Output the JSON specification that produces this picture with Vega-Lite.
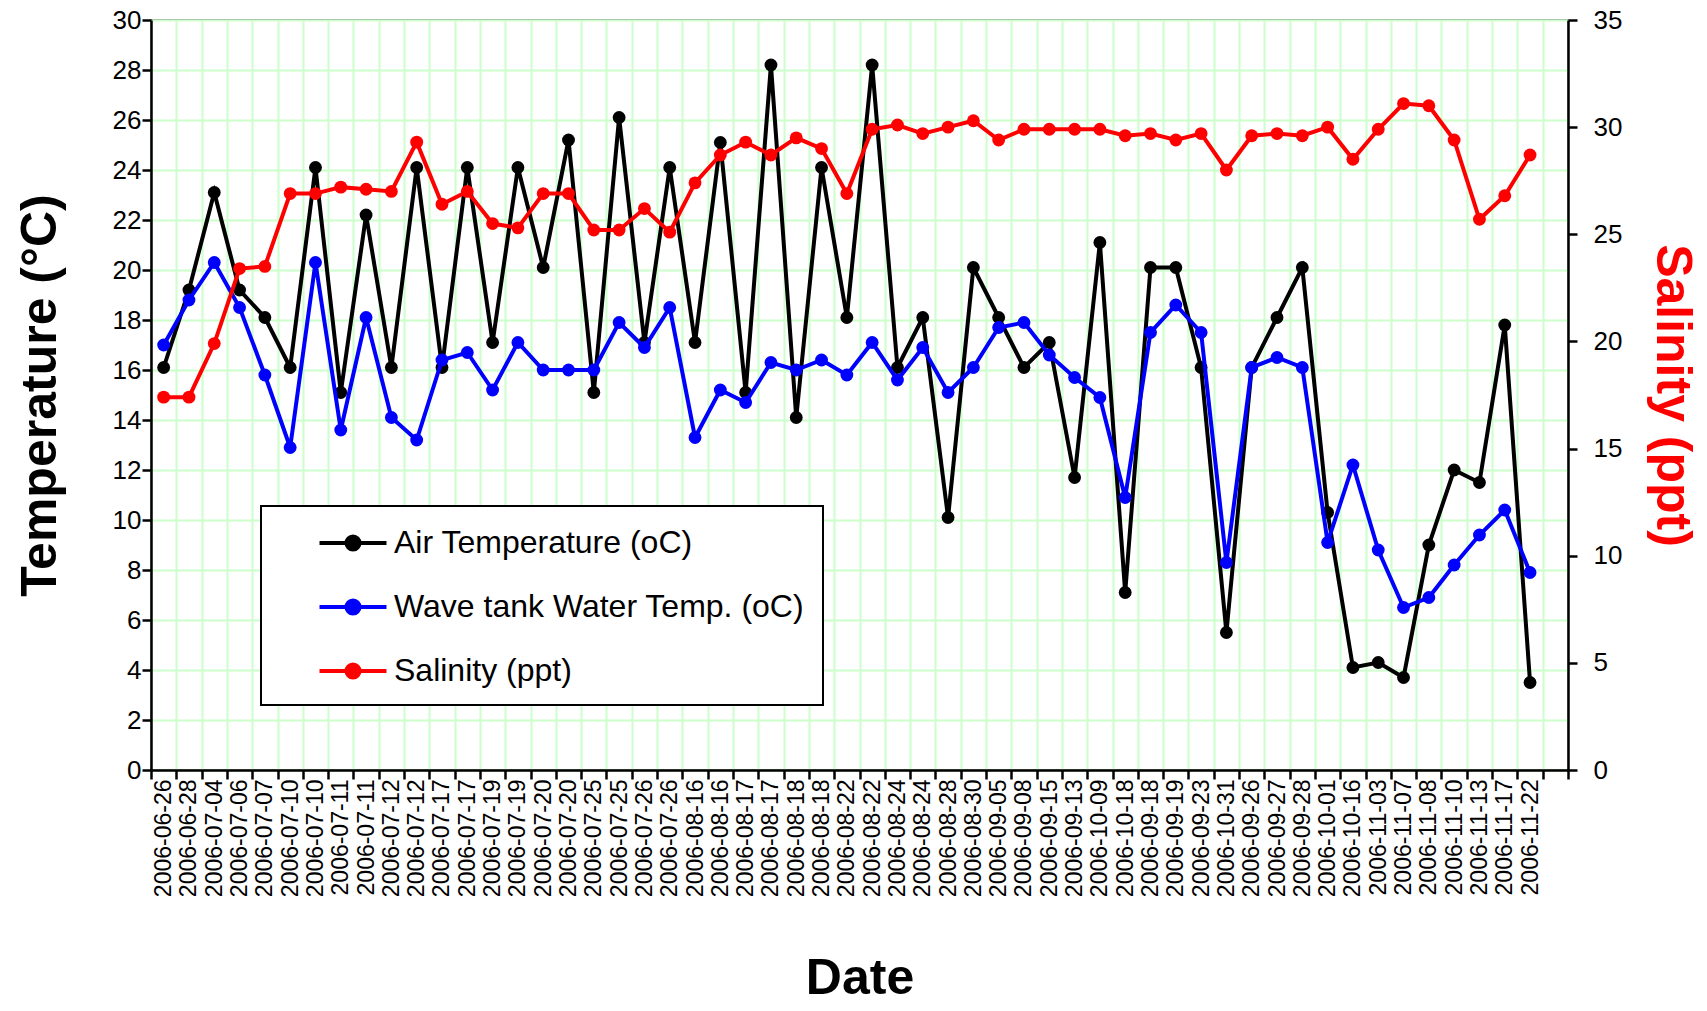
{
  "$schema": "https://vega.github.io/schema/vega-lite/v6.json",
  "width": 1417,
  "height": 750,
  "autosize": {"type": "none"},
  "padding": {"left": 151, "top": 20, "right": 139, "bottom": 241},
  "background": "white",
  "config": {
    "view": {"stroke": "#8c8c8c", "strokeWidth": 2},
    "font": "Liberation Sans",
    "axis": {
      "domainColor": "black", "domainWidth": 2.5,
      "tickColor": "black", "tickWidth": 2.5, "tickSize": 9,
      "labelColor": "black", "labelFont": "Liberation Sans", "labelFontSize": 26,
      "titleFont": "Liberation Sans", "titleColor": "black", "titleFontWeight": "bold", "titleFontSize": 50,
      "gridColor": "#ccffcc", "gridWidth": 2, "gridOpacity": 1
    }
  },
  "data": {
    "values": [
      {"reading": "01|2006-06-26", "air": 16.1, "water": 17.0, "salinity": 17.4},
      {"reading": "02|2006-06-28", "air": 19.2, "water": 18.8, "salinity": 17.4},
      {"reading": "03|2006-07-04", "air": 23.1, "water": 20.3, "salinity": 19.9},
      {"reading": "04|2006-07-06", "air": 19.2, "water": 18.5, "salinity": 23.4},
      {"reading": "05|2006-07-07", "air": 18.1, "water": 15.8, "salinity": 23.5},
      {"reading": "06|2006-07-10", "air": 16.1, "water": 12.9, "salinity": 26.9},
      {"reading": "07|2006-07-10", "air": 24.1, "water": 20.3, "salinity": 26.9},
      {"reading": "08|2006-07-11", "air": 15.1, "water": 13.6, "salinity": 27.2},
      {"reading": "09|2006-07-11", "air": 22.2, "water": 18.1, "salinity": 27.1},
      {"reading": "10|2006-07-12", "air": 16.1, "water": 14.1, "salinity": 27.0},
      {"reading": "11|2006-07-12", "air": 24.1, "water": 13.2, "salinity": 29.3},
      {"reading": "12|2006-07-17", "air": 16.1, "water": 16.4, "salinity": 26.4},
      {"reading": "13|2006-07-17", "air": 24.1, "water": 16.7, "salinity": 27.0},
      {"reading": "14|2006-07-19", "air": 17.1, "water": 15.2, "salinity": 25.5},
      {"reading": "15|2006-07-19", "air": 24.1, "water": 17.1, "salinity": 25.3},
      {"reading": "16|2006-07-20", "air": 20.1, "water": 16.0, "salinity": 26.9},
      {"reading": "17|2006-07-20", "air": 25.2, "water": 16.0, "salinity": 26.9},
      {"reading": "18|2006-07-25", "air": 15.1, "water": 16.0, "salinity": 25.2},
      {"reading": "19|2006-07-25", "air": 26.1, "water": 17.9, "salinity": 25.2},
      {"reading": "20|2006-07-26", "air": 17.1, "water": 16.9, "salinity": 26.2},
      {"reading": "21|2006-07-26", "air": 24.1, "water": 18.5, "salinity": 25.1},
      {"reading": "22|2006-08-16", "air": 17.1, "water": 13.3, "salinity": 27.4},
      {"reading": "23|2006-08-16", "air": 25.1, "water": 15.2, "salinity": 28.7},
      {"reading": "24|2006-08-17", "air": 15.1, "water": 14.7, "salinity": 29.3},
      {"reading": "25|2006-08-17", "air": 28.2, "water": 16.3, "salinity": 28.7},
      {"reading": "26|2006-08-18", "air": 14.1, "water": 16.0, "salinity": 29.5},
      {"reading": "27|2006-08-18", "air": 24.1, "water": 16.4, "salinity": 29.0},
      {"reading": "28|2006-08-22", "air": 18.1, "water": 15.8, "salinity": 26.9},
      {"reading": "29|2006-08-22", "air": 28.2, "water": 17.1, "salinity": 29.9},
      {"reading": "30|2006-08-24", "air": 16.1, "water": 15.6, "salinity": 30.1},
      {"reading": "31|2006-08-24", "air": 18.1, "water": 16.9, "salinity": 29.7},
      {"reading": "32|2006-08-28", "air": 10.1, "water": 15.1, "salinity": 30.0},
      {"reading": "33|2006-08-30", "air": 20.1, "water": 16.1, "salinity": 30.3},
      {"reading": "34|2006-09-05", "air": 18.1, "water": 17.7, "salinity": 29.4},
      {"reading": "35|2006-09-08", "air": 16.1, "water": 17.9, "salinity": 29.9},
      {"reading": "36|2006-09-15", "air": 17.1, "water": 16.6, "salinity": 29.9},
      {"reading": "37|2006-09-13", "air": 11.7, "water": 15.7, "salinity": 29.9},
      {"reading": "38|2006-10-09", "air": 21.1, "water": 14.9, "salinity": 29.9},
      {"reading": "39|2006-10-18", "air": 7.1, "water": 10.9, "salinity": 29.6},
      {"reading": "40|2006-09-18", "air": 20.1, "water": 17.5, "salinity": 29.7},
      {"reading": "41|2006-09-19", "air": 20.1, "water": 18.6, "salinity": 29.4},
      {"reading": "42|2006-09-23", "air": 16.1, "water": 17.5, "salinity": 29.7},
      {"reading": "43|2006-10-31", "air": 5.5, "water": 8.3, "salinity": 28.0},
      {"reading": "44|2006-09-26", "air": 16.1, "water": 16.1, "salinity": 29.6},
      {"reading": "45|2006-09-27", "air": 18.1, "water": 16.5, "salinity": 29.7},
      {"reading": "46|2006-09-28", "air": 20.1, "water": 16.1, "salinity": 29.6},
      {"reading": "47|2006-10-01", "air": 10.3, "water": 9.1, "salinity": 30.0},
      {"reading": "48|2006-10-16", "air": 4.1, "water": 12.2, "salinity": 28.5},
      {"reading": "49|2006-11-03", "air": 4.3, "water": 8.8, "salinity": 29.9},
      {"reading": "50|2006-11-07", "air": 3.7, "water": 6.5, "salinity": 31.1},
      {"reading": "51|2006-11-08", "air": 9.0, "water": 6.9, "salinity": 31.0},
      {"reading": "52|2006-11-10", "air": 12.0, "water": 8.2, "salinity": 29.4},
      {"reading": "53|2006-11-13", "air": 11.5, "water": 9.4, "salinity": 25.7},
      {"reading": "54|2006-11-17", "air": 17.8, "water": 10.4, "salinity": 26.8},
      {"reading": "55|2006-11-22", "air": 3.5, "water": 7.9, "salinity": 28.7}
    ]
  },
  "encoding": {
    "x": {
      "field": "reading",
      "type": "ordinal",
      "sort": "ascending",
      "scale": {"type": "band", "paddingInner": 0, "paddingOuter": 0, "domain": {"unionWith": ["56|"]}},
      "axis": {
        "title": "Date",
        "labelExpr": "split(datum.value, '|')[1]",
        "labelAngle": 270,
        "labelFontSize": 23,
        "labelPadding": 0,
        "tickBand": "extent",
        "grid": true,
        "titlePadding": 57
      }
    }
  },
  "layer": [
    {
      "layer": [
        {
          "mark": {"type": "line", "strokeWidth": 4, "point": {"filled": true, "size": 165, "opacity": 1}},
          "encoding": {
            "y": {
              "field": "air", "type": "quantitative",
              "scale": {"domain": [0, 30], "nice": false},
              "axis": {"title": "Temperature (°C)", "orient": "left", "values": [0, 2, 4, 6, 8, 10, 12, 14, 16, 18, 20, 22, 24, 26, 28, 30], "grid": true, "labelPadding": 1, "titlePadding": 47}
            },
            "color": {
              "datum": "Air Temperature (oC)",
              "scale": {
                "domain": ["Air Temperature (oC)", "Wave tank Water Temp. (oC)", "Salinity (ppt)"],
                "range": ["#000000", "#0000ff", "#ff0000"]
              },
              "legend": {
                "orient": "none",
                "legendX": 110,
                "legendY": 486,
                "title": null,
                "fillColor": "white",
                "strokeColor": "black",
                "padding": 18,
                "labelFont": "Liberation Sans",
                "labelFontSize": 32,
                "labelColor": "black",
                "labelLimit": 800,
                "labelOffset": 22,
                "rowPadding": 29,
                "symbolType": "M-2,0H2M-0.39,0A0.39,0.39,0,1,0,0.39,0A0.39,0.39,0,1,0,-0.39,0Z",
                "symbolSize": 1122,
                "symbolStrokeWidth": 4,
                "symbolOffset": 55,
                "encode": {
                  "symbols": {"update": {"fill": {"scale": "color", "field": "value"}, "stroke": {"scale": "color", "field": "value"}, "opacity": {"value": 1}}},
                  "legend": {"update": {"strokeWidth": {"value": 2}}}
                }
              }
            }
          }
        },
        {
          "mark": {"type": "line", "strokeWidth": 4, "point": {"filled": true, "size": 165, "opacity": 1}},
          "encoding": {
            "y": {
              "field": "water", "type": "quantitative",
              "scale": {"domain": [0, 30], "nice": false},
              "axis": {"title": "Temperature (°C)", "orient": "left", "values": [0, 2, 4, 6, 8, 10, 12, 14, 16, 18, 20, 22, 24, 26, 28, 30], "grid": true, "labelPadding": 1, "titlePadding": 47}
            },
            "color": {"datum": "Wave tank Water Temp. (oC)"}
          }
        }
      ]
    },
    {
      "mark": {"type": "line", "strokeWidth": 4, "point": {"filled": true, "size": 165, "opacity": 1}},
      "encoding": {
        "y": {
          "field": "salinity", "type": "quantitative",
          "scale": {"domain": [0, 35], "nice": false},
          "axis": {"title": "Salinity (ppt)", "titleColor": "#ff0000", "orient": "right", "values": [0, 5, 10, 15, 20, 25, 30, 35], "grid": false, "labelPadding": 16, "titlePadding": 25}
        },
        "color": {"datum": "Salinity (ppt)"}
      }
    }
  ],
  "resolve": {"scale": {"y": "independent"}}
}
